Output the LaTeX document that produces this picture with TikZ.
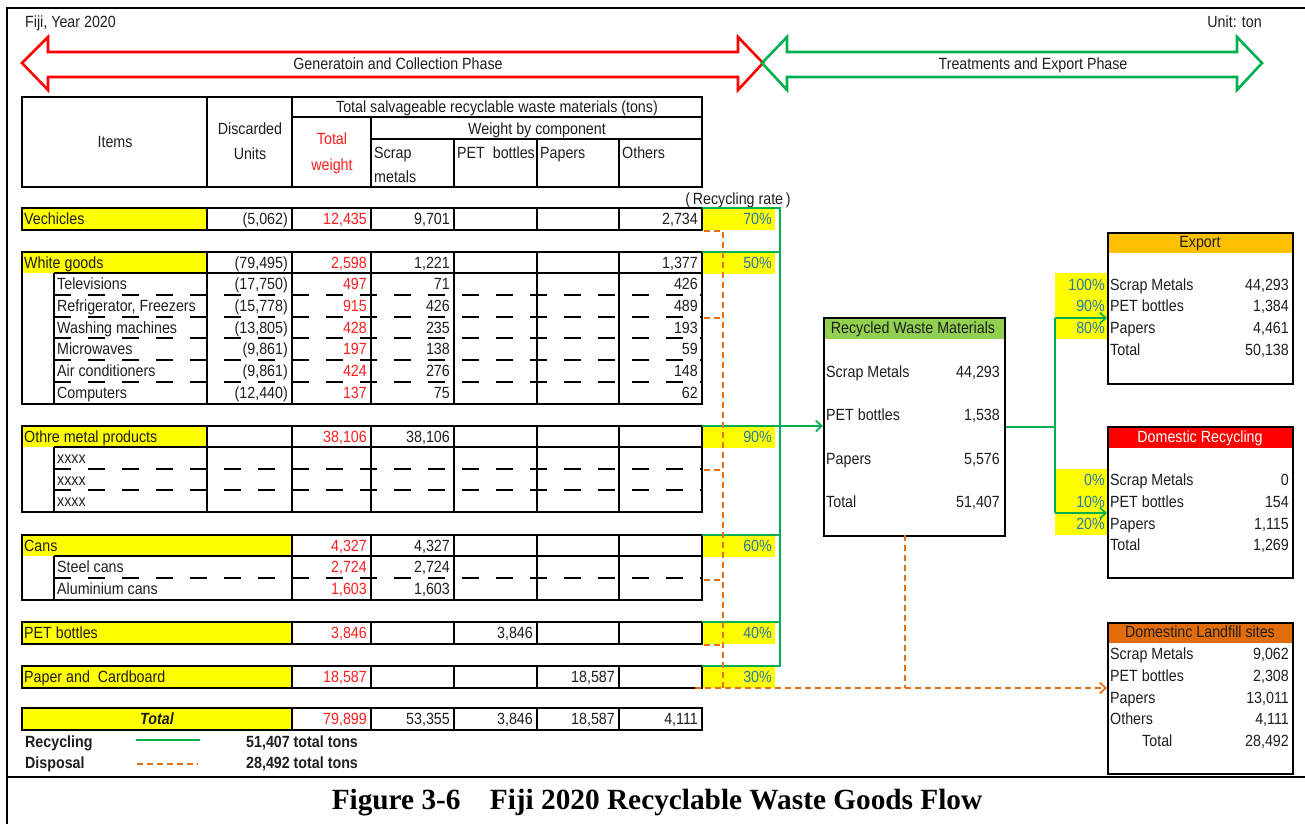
\documentclass[tikz,border=0pt]{standalone}
\usepackage{fontspec}
\setmainfont{Liberation Sans}[FakeStretch=0.88]
\newfontfamily\capfont{Liberation Serif}
\usetikzlibrary{arrows.meta}
\definecolor{pctc}{RGB}{40,120,175}
\definecolor{ylw}{RGB}{255,255,0}
\definecolor{hgreen}{RGB}{146,208,80}
\definecolor{hexport}{RGB}{255,192,0}
\definecolor{hland}{RGB}{226,107,10}
\definecolor{glc}{RGB}{0,176,80}
\definecolor{olc}{RGB}{232,112,20}
\definecolor{rnum}{RGB}{255,30,30}
\definecolor{darkt}{RGB}{30,30,30}
\tikzset{
  txt/.style={inner sep=0pt, text height=11.5pt, text depth=0pt, text=darkt},
  num/.style={txt, anchor=east},
  pct/.style={txt, anchor=east, text=pctc},
  tbl/.style={line width=1.8pt, black},
  dsh/.style={line width=1.6pt, black, dash pattern=on 17pt off 17pt},
  gl/.style={line width=1.7pt, glc},
  ol/.style={line width=1.7pt, olc, dash pattern=on 6pt off 4pt},
  barb/.style={-{Straight Barb[length=6pt,width=11pt,line width=1.7pt]}},
  boxb/.style={draw, line width=2.2pt, inner sep=0pt, anchor=north west},
  phase/.style={line width=2.6pt, line join=miter},
}
\newcommand{\rowv}[7]{%
  \node[num] (d#1) at (288,#1) {#2};
  \node[num, text=rnum] (t#1) at (367,#1) {#3};
  \node[num] (s#1) at (450,#1) {#4};
  \node[num] (p#1) at (533,#1) {#5};
  \node[num] (q#1) at (615,#1) {#6};
  \node[num] (o#1) at (698,#1) {#7};}
\begin{document}
\begin{tikzpicture}[x=1pt, y=-1pt, font=\fontsize{16.2}{18}\selectfont]
\useasboundingbox (0,0) rectangle (1305,824);
% frame
\draw[line width=2pt] (7,824) -- (7,8) -- (1305,8);
\draw[line width=2pt] (7,777) -- (1305,777);
\node[txt, anchor=west] (fiji) at (25,22) {Fiji, Year 2020};
\node[txt, anchor=east] (unit) at (1262,22) {Unit: ton};
% phase arrows
\draw[phase, red] (22,63) -- (48,37) -- (48,52) -- (738,52) -- (738,37) -- (763,63) -- (738,90) -- (738,77) -- (48,77) -- (48,90) -- cycle;
\draw[phase, glc] (762,63) -- (787,37) -- (787,52) -- (1237,52) -- (1237,37) -- (1262,63) -- (1237,90) -- (1237,77) -- (787,77) -- (787,90) -- cycle;
\node[txt] (ph1) at (398,64) {Generatoin and Collection Phase};
\node[txt] (ph2) at (1033,64) {Treatments and Export Phase};
% header
\draw[tbl] (22,97) rectangle (702,187);
\draw[tbl] (207,97) -- (207,187) (292,97) -- (292,187) (292,117) -- (702,117)
  (371,117) -- (371,187) (371,139) -- (702,139) (454,139) -- (454,187)
  (537,139) -- (537,187) (619,139) -- (619,187);
\node[txt] (hitems) at (115,142) {Items};
\node[txt] (hdisc1) at (250,129) {Discarded};
\node[txt] (hdisc2) at (250,154) {Units};
\node[txt, text=rnum] (htot1) at (332,139) {Total};
\node[txt, text=rnum] (htot2) at (332,165) {weight};
\node[txt] (hsalv) at (497,107) {Total salvageable recyclable waste materials (tons)};
\node[txt] (hwbc) at (537,129) {Weight by component};
\node[txt, anchor=west] (hscrap) at (374,153) {Scrap};
\node[txt, anchor=west] (hmetals) at (374,177) {metals};
\node[txt, anchor=west] (hpet) at (457,153) {PET\ \ bottles};
\node[txt, anchor=west] (hpap) at (540,153) {Papers};
\node[txt, anchor=west] (hoth) at (622,153) {Others};
\node[txt] (rrate) at (738,199) {(\,Recycling rate\,)};
% yellow fills
\fill[ylw] (22,208) rectangle (207,230);
\fill[ylw] (22,252) rectangle (207,273);
\fill[ylw] (22,426) rectangle (207,447);
\fill[ylw] (22,535) rectangle (292,556);
\fill[ylw] (22,622) rectangle (292,643);
\fill[ylw] (22,666) rectangle (292,687);
\fill[ylw] (22,708) rectangle (292,730);
\foreach \yy in {208,252,426,535,622,666} \fill[ylw] (702,\yy) rectangle (775,\yy+22);
% Vechicles
\draw[tbl] (22,208) rectangle (702,230);
\foreach \c in {207,292,371,454,537,619} \draw[tbl] (\c,208) -- (\c,230);
% White goods
\draw[tbl] (22,252) rectangle (702,404);
\draw[tbl] (54,273) -- (702,273) (54,273) -- (54,404);
\foreach \c in {207,292,371,454,537,619} \draw[tbl] (\c,252) -- (\c,404);
\foreach \yy in {295,317,338,360,382} \draw[dsh] (54,\yy) -- (702,\yy);
% Other metal
\draw[tbl] (22,426) rectangle (702,512);
\draw[tbl] (54,447) -- (702,447) (54,447) -- (54,512);
\foreach \c in {207,292,371,454,537,619} \draw[tbl] (\c,426) -- (\c,512);
\foreach \yy in {469,490} \draw[dsh] (54,\yy) -- (702,\yy);
% Cans
\draw[tbl] (22,535) rectangle (702,600);
\draw[tbl] (54,556) -- (702,556) (54,556) -- (54,600);
\foreach \c in {292,371,454,537,619} \draw[tbl] (\c,535) -- (\c,600);
\draw[dsh] (54,578) -- (702,578);
% PET, Paper, Total
\foreach \tt in {622,666,708} {
  \draw[tbl] (22,\tt) rectangle (702,\tt+22);
  \foreach \c in {292,371,454,537,619} \draw[tbl] (\c,\tt) -- (\c,\tt+22);
}
% labels
\node[txt, anchor=west] (lveh) at (24,219) {Vechicles};
\node[txt, anchor=west] (lwg) at (24,263) {White goods};
\node[txt, anchor=west] (ltv) at (57,284) {Televisions};
\node[txt, anchor=west] (lref) at (57,306) {Refrigerator, Freezers};
\node[txt, anchor=west] (lwash) at (57,328) {Washing machines};
\node[txt, anchor=west] (lmic) at (57,349) {Microwaves};
\node[txt, anchor=west] (lair) at (57,371) {Air conditioners};
\node[txt, anchor=west] (lcomp) at (57,393) {Computers};
\node[txt, anchor=west] (loth) at (24,437) {Othre metal products};
\node[txt, anchor=west] (lx1) at (57,458) {xxxx};
\node[txt, anchor=west] (lx2) at (57,480) {xxxx};
\node[txt, anchor=west] (lx3) at (57,501) {xxxx};
\node[txt, anchor=west] (lcans) at (24,546) {Cans};
\node[txt, anchor=west] (lsteel) at (57,567) {Steel cans};
\node[txt, anchor=west] (lalu) at (57,589) {Aluminium cans};
\node[txt, anchor=west] (lpet) at (24,633) {PET bottles};
\node[txt, anchor=west] (lpap) at (24,677) {Paper and\ \ Cardboard};
\node[txt, font=\fontsize{16.2}{18}\selectfont\bfseries\itshape] (ltot) at (157,719) {Total};
\rowv{219}{(5,062)}{12,435}{9,701}{}{}{2,734}
\rowv{263}{(79,495)}{2,598}{1,221}{}{}{1,377}
\rowv{284}{(17,750)}{497}{71}{}{}{426}
\rowv{306}{(15,778)}{915}{426}{}{}{489}
\rowv{328}{(13,805)}{428}{235}{}{}{193}
\rowv{349}{(9,861)}{197}{138}{}{}{59}
\rowv{371}{(9,861)}{424}{276}{}{}{148}
\rowv{393}{(12,440)}{137}{75}{}{}{62}
\rowv{437}{}{38,106}{38,106}{}{}{}
\rowv{546}{}{4,327}{4,327}{}{}{}
\rowv{567}{}{2,724}{2,724}{}{}{}
\rowv{589}{}{1,603}{1,603}{}{}{}
\rowv{633}{}{3,846}{}{3,846}{}{}
\rowv{677}{}{18,587}{}{}{18,587}{}
\rowv{719}{}{79,899}{53,355}{3,846}{18,587}{4,111}
% rates
\node[pct] (r1) at (772,219) {70\%};
\node[pct] (r2) at (772,263) {50\%};
\node[pct] (r3) at (772,437) {90\%};
\node[pct] (r4) at (772,546) {60\%};
\node[pct] (r5) at (772,633) {40\%};
\node[pct] (r6) at (772,677) {30\%};
% right boxes
\fill[hgreen] (823,317) rectangle (1004,339);
\node[boxb, minimum width=181pt, minimum height=218pt] (rwm) at (823,317) {};
\node[txt] (rwmh) at (913,328) {Recycled Waste Materials};
\node[txt, anchor=west] (rw1) at (826,372) {Scrap Metals};
\node[num] (rw1v) at (1000,372) {44,293};
\node[txt, anchor=west] (rw2) at (826,415) {PET bottles};
\node[num] (rw2v) at (1000,415) {1,538};
\node[txt, anchor=west] (rw3) at (826,459) {Papers};
\node[num] (rw3v) at (1000,459) {5,576};
\node[txt, anchor=west] (rw4) at (826,502) {Total};
\node[num] (rw4v) at (1000,502) {51,407};

\fill[ylw] (1055,273) rectangle (1107,339);
\fill[ylw] (1055,469) rectangle (1107,535);

\fill[hexport] (1107,232) rectangle (1292,253);
\node[boxb, minimum width=185pt, minimum height=151pt] (exp) at (1107,232) {};
\node[txt] (exph) at (1200,242) {Export};
\node[pct] (e1p) at (1105,285) {100\%};
\node[pct] (e2p) at (1105,306) {90\%};
\node[pct] (e3p) at (1105,328) {80\%};
\node[txt, anchor=west] (e1) at (1110,285) {Scrap Metals};
\node[num] (e1v) at (1289,285) {44,293};
\node[txt, anchor=west] (e2) at (1110,306) {PET bottles};
\node[num] (e2v) at (1289,306) {1,384};
\node[txt, anchor=west] (e3) at (1110,328) {Papers};
\node[num] (e3v) at (1289,328) {4,461};
\node[txt, anchor=west] (e4) at (1110,350) {Total};
\node[num] (e4v) at (1289,350) {50,138};

\fill[red] (1107,426) rectangle (1292,448);
\node[boxb, minimum width=185pt, minimum height=151pt] (dom) at (1107,426) {};
\node[txt, text=white] (domh) at (1200,437) {Domestic Recycling};
\node[pct] (d1p) at (1105,480) {0\%};
\node[pct] (d2p) at (1105,502) {10\%};
\node[pct] (d3p) at (1105,524) {20\%};
\node[txt, anchor=west] (dm1) at (1110,480) {Scrap Metals};
\node[num] (dm1v) at (1289,480) {0};
\node[txt, anchor=west] (dm2) at (1110,502) {PET bottles};
\node[num] (dm2v) at (1289,502) {154};
\node[txt, anchor=west] (dm3) at (1110,524) {Papers};
\node[num] (dm3v) at (1289,524) {1,115};
\node[txt, anchor=west] (dm4) at (1110,545) {Total};
\node[num] (dm4v) at (1289,545) {1,269};

\fill[hland] (1107,622) rectangle (1292,643);
\node[boxb, minimum width=185pt, minimum height=151pt] (lf) at (1107,622) {};
\node[txt] (lfh) at (1200,632) {Domestinc Landfill sites};
\node[txt, anchor=west] (lf1) at (1110,654) {Scrap Metals};
\node[num] (lf1v) at (1289,654) {9,062};
\node[txt, anchor=west] (lf2) at (1110,676) {PET bottles};
\node[num] (lf2v) at (1289,676) {2,308};
\node[txt, anchor=west] (lf3) at (1110,698) {Papers};
\node[num] (lf3v) at (1289,698) {13,011};
\node[txt, anchor=west] (lf4) at (1110,719) {Others};
\node[num] (lf4v) at (1289,719) {4,111};
\node[txt, anchor=west] (lf5) at (1142,741) {Total};
\node[num] (lf5v) at (1289,741) {28,492};

% green recycling connectors
\coordinate (gtop) at (780,208);
\coordinate (gbot) at (780,666);
\coordinate (gmid) at (780,426);
\draw[gl] (702,208) -- (gtop) -- (gbot) -- (702,666);
\foreach \yy in {252,535,622} \draw[gl] (702,\yy) -- (780,\yy);
\draw[gl, barb] (702,426) -- (rwm.west |- gmid);
\coordinate (gs) at (1055,427);
\coordinate (gu) at (1055,318);
\coordinate (gd) at (1055,513);
\draw[gl] (rwm.east |- gs) -- (gs);
\draw[gl] (gu) -- (gd);
\draw[gl, barb] (gu) -- (exp.west |- gu);
\draw[gl, barb] (gd) -- (dom.west |- gd);
% orange disposal connectors
\coordinate (ov) at (723,231);
\coordinate (ob) at (723,688);
\coordinate (rb) at (905,535);
\coordinate (rj) at (905,688);
\coordinate (os) at (695,688);
\draw[ol] (704,231) -- (ov) -- (ob);
\foreach \yy in {318,470,580,645} \draw[ol] (704,\yy) -- (723,\yy);
\draw[ol] (rb) -- (rj);
\draw[ol, barb] (os) -- (lf.west |- os);
% legend
\node[txt, anchor=west, font=\fontsize{16.2}{18}\selectfont\bfseries] (lgr) at (25,742) {Recycling};
\node[txt, anchor=west, font=\fontsize{16.2}{18}\selectfont\bfseries] (lgd) at (25,763) {Disposal};
\coordinate (lg1a) at (136,740);
\coordinate (lg1b) at (200,740);
\coordinate (lg2a) at (137,764);
\coordinate (lg2b) at (198,764);
\draw[gl] (lg1a) -- (lg1b);
\draw[ol] (lg2a) -- (lg2b);
\node[txt, anchor=west, font=\fontsize{16.2}{18}\selectfont\bfseries] (lgrv) at (246,742) {51,407\ total tons};
\node[txt, anchor=west, font=\fontsize{16.2}{18}\selectfont\bfseries] (lgdv) at (246,763) {28,492\ total tons};
% caption
\node[inner sep=0pt, font=\capfont\bfseries\fontsize{29.3}{33}\selectfont] (cap) at (657,803) {Figure 3-6\hspace{1em}Fiji 2020 Recyclable Waste Goods Flow};
\end{tikzpicture}
\end{document}
